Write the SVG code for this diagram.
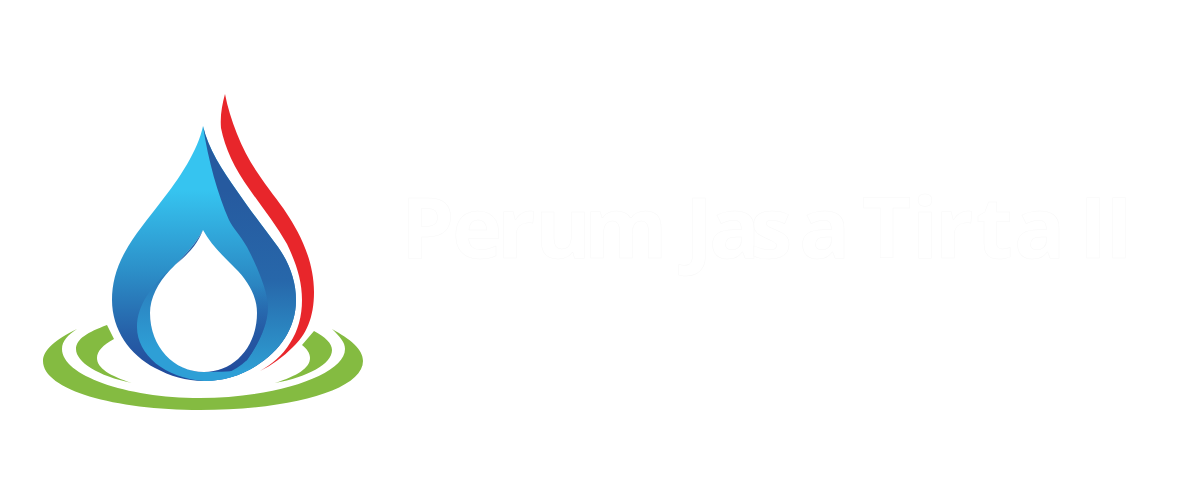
<svg xmlns="http://www.w3.org/2000/svg" width="1200" height="500" viewBox="0 0 1200 500">
<style>
.t{font-family:"Open Sans","Liberation Sans",sans-serif;font-weight:700;font-size:85px;fill:#fff;stroke:#f8f8f8;stroke-width:.5}
.g{fill:#84bb41}
</style>
<defs>
<linearGradient id="d" gradientUnits="userSpaceOnUse" x1="0" y1="190" x2="0" y2="370"><stop offset="0" stop-color="#36c4f0"/><stop offset=".45" stop-color="#2c8fc8"/><stop offset=".8" stop-color="#2660a8"/><stop offset="1" stop-color="#234c9c"/></linearGradient>
<linearGradient id="r" gradientUnits="userSpaceOnUse" x1="0" y1="190" x2="0" y2="370"><stop offset="0" stop-color="#265a9f"/><stop offset=".5" stop-color="#2767aa"/><stop offset="1" stop-color="#2e9dd2"/></linearGradient>
<linearGradient id="c" gradientUnits="userSpaceOnUse" x1="0" y1="270" x2="0" y2="350"><stop offset="0" stop-color="#2a78b8"/><stop offset="1" stop-color="#2e9fd6"/></linearGradient>
<linearGradient id="s" gradientUnits="userSpaceOnUse" x1="0" y1="285" x2="0" y2="360"><stop offset="0" stop-color="#2660a8" stop-opacity="0"/><stop offset="1" stop-color="#24509e"/></linearGradient>
</defs>
<rect width="1200" height="500" fill="#fff"/>
<g id="ripples">
<path class="g" d="M77 329C55 340 43 350 43 361C43 390 115 410 200 410C290 410 363 390 363 361C363 349 350 339 332 329C340 337 345 342 345 349C345 375 275 398 200 398C125 398 62 375 62 349C62 341 68 335 77 329Z"/>
<path class="g" d="M107 325C88 332 76 339 76 349C76 362 98 376 132 383C110 376 97 368 97 358C97 351 103 345 114 339Z"/>
<path class="g" d="M314 331L302 345C307 349 310 353 310 358C310 368 297 376 275 383C308 377 332 364 332 350C332 343 325 337 314 331Z"/>
</g>
<g id="flame">
<path fill="#e8262b" d="M225 94C230 120 242 150 257 172C268 189 278 200 287 214C297 229 314 258 314 292C314 318 306 335 293 347C283 357 272 365 260 371C272 364 282 356 290 343C298 331 302 316 302 300C302 280 296 263 287 244C276 225 262 207 250 190C234 168 225 148 221 128C220 116 222 105 225 94Z"/>
</g>
<g id="drop">
<path fill="url(#d)" d="M203 126C198 150 180 178 160 203C148 219 134 235 125 252C116 268 112 284 112 300C112 330 130 355 155 368C170 376 186 381 204 381C222 381 240 376 256 366C280 351 296 328 296 300C296 282 290 264 278 247C266 231 250 210 237 191C222 170 208 148 203 126Z"/>
<path fill="url(#d)" d="M203 230L260 300L220 340L190 300Z"/>
<path fill="url(#r)" d="M203 126C208 148 222 170 237 191C250 210 266 231 278 247C290 264 296 282 296 300C296 328 280 351 256 366C240 376 222 381 204 381C215 378 235 372 247 360C258 345 268 325 268 307C268 292 258 268 247 247C240 235 233 228 229 220C218 195 208 160 203 126Z"/>
<path fill="url(#c)" d="M172 268C152 285 137 305 137 327C137 355 165 378 204 381C222 381 240 376 256 366C250 369 240 372 204 372C175 372 150 345 150 313C150 295 160 280 172 268Z"/>
<path fill="url(#s)" d="M238 271C250 284 257 298 257 313C257 340 242 362 224 369C235 366 242 363 247 360C258 345 268 325 268 307C268 296 265 285 260 272C254 260 250 254 246 250Z"/>
<path fill="#fff" d="M203 230C196 244 182 258 170 270C158 283 150 298 150 313C150 347 174 372 204 372C234 372 257 347 257 313C257 298 250 284 238 271C225 258 211 245 203 230Z"/>
<path fill="#2660a8" d="M203 230C196 244 182 258 170 270C168 272 166 274 164 277C172 266 182 260 188 253C194 247 199 240 203 230Z"/>
</g>
<g id="title"><text class="t" y="258" x="401 452 497 535 584 660 685 709 750 799 850 862 912 935 976 1014 1060 1079 1105">Perum Jasa Tirta II</text></g>
</svg>
